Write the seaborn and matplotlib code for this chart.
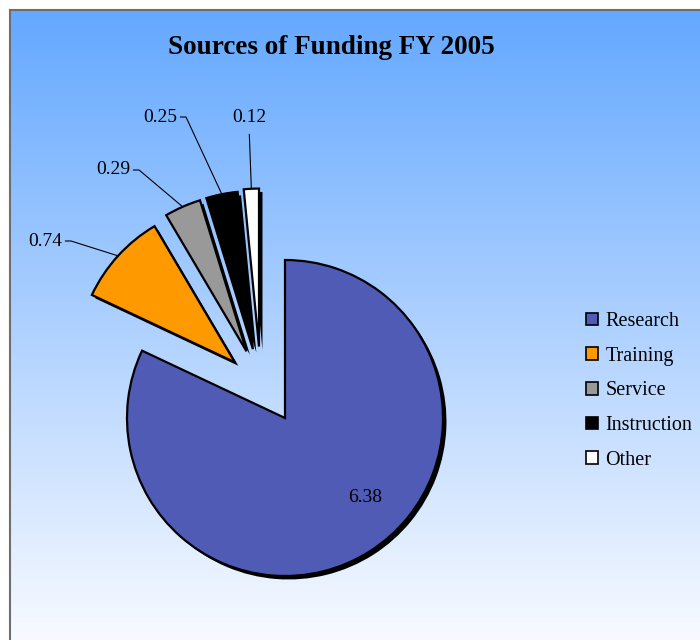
import numpy as np
import matplotlib
matplotlib.use("Agg")
import matplotlib.pyplot as plt
import matplotlib.patheffects as pe
from matplotlib.patches import Patch
import seaborn as sns

# Funding sources, FY 2005
categories = ["Research", "Training", "Service", "Instruction", "Other"]
values = [6.38, 0.74, 0.29, 0.25, 0.12]
value_labels = ["6.38", "0.74", "0.29", "0.25", "0.12"]

sns.set_style("white")
plt.rcParams["font.family"] = ["Liberation Serif", "DejaVu Serif"]
plt.rcParams["text.color"] = "black"

colors = ["#4F5BB5", "#FF9900", "#999999", "#000000", "#FFFFFF"]

fig = plt.figure(figsize=(7, 6.4), dpi=100)
fig.patch.set_facecolor("white")

# gradient background panel
bg = fig.add_axes([10 / 700, 0, 690 / 700, 630 / 640])
top = np.array([100, 168, 255]) / 255
bot = np.array([248, 250, 255]) / 255
t = np.linspace(0, 1, 256)[:, None]
grad = top * (1 - t) + bot * t
bg.imshow(grad[:, None, :], aspect="auto", extent=[0, 1, 0, 1])
bg.set_xticks([])
bg.set_yticks([])
for s in ["right", "bottom"]:
    bg.spines[s].set_visible(False)
for s in ["left", "top"]:
    bg.spines[s].set_color("#6E6E6E")
    bg.spines[s].set_linewidth(1.5)

# pie axes in pixel-like data units
ax = fig.add_axes([0, 0, 1, 1])
ax.patch.set_alpha(0)

wedges, _ = ax.pie(values, colors=colors, startangle=90, counterclock=False,
                   center=(285, 222), radius=158, frame=True,
                   wedgeprops=dict(edgecolor="black", linewidth=1.6))
ax.set_xlim(0, 700)
ax.set_ylim(0, 640)
ax.set_aspect("equal")
ax.axis("off")

# pull-out of the small slices (distance, direction in degrees), Excel style
pull = [(0, 0), (75, 132), (77, 120), (76, 115), (76, 110)]
for w, (d, a) in zip(wedges, pull):
    cx, cy = w.center
    w.set_center((cx + d * np.cos(np.deg2rad(a)), cy + d * np.sin(np.deg2rad(a))))
    w.set_path_effects([pe.SimplePatchShadow(offset=(2.5, -2.5), shadow_rgbFace="black", alpha=1),
                        pe.Normal()])

# value labels
text_pos = [(365, 143), (45, 399), (113, 470), (160, 523), (249, 523)]
for i, (w, lab) in enumerate(zip(wedges, value_labels)):
    if i == 0:
        ax.text(*text_pos[i], lab, ha="center", va="center", fontsize=14)
        continue
    ang = np.deg2rad((w.theta1 + w.theta2) / 2)
    cx, cy = w.center
    xy = (cx + w.r * np.cos(ang), cy + w.r * np.sin(ang))
    if i == 4:
        ap = dict(arrowstyle="-", color="black", lw=0.8, shrinkA=4, shrinkB=0, relpos=(0.5, 0))
    else:
        ap = dict(arrowstyle="-", color="black", lw=0.8, shrinkA=0, shrinkB=0, relpos=(1, 0.5),
                  connectionstyle="arc,angleA=0,armA=9,angleB=0,armB=0,rad=0")
    ax.annotate(lab, xy=xy, xytext=text_pos[i], ha="center", va="center",
                fontsize=14, arrowprops=ap)

ax.text(331, 592, "Sources of Funding FY 2005", ha="center", va="center",
        fontsize=19.5, fontweight="bold")

handles = [Patch(facecolor=c, edgecolor="black", linewidth=1.2) for c in colors]
fig.legend(handles, categories, loc="upper left", bbox_to_anchor=(576 / 700, 1 - 302 / 640),
           frameon=False, fontsize=14.5, handlelength=0.6, handleheight=0.6,
           handletextpad=0.35, labelspacing=0.78, borderpad=0)

fig.savefig("out.png", dpi=100)
